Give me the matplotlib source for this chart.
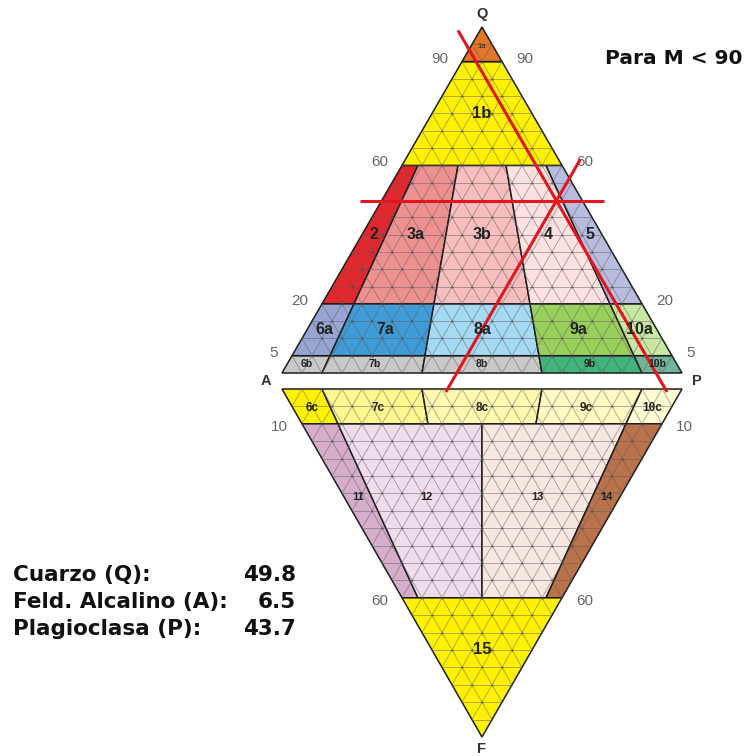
import matplotlib.pyplot as plt
from matplotlib.patches import Polygon
import numpy as np

# sample composition (%)
sampleLabels = ["Cuarzo (Q):", "Feld. Alcalino (A):", "Plagioclasa (P):"]
sampleQ = 49.8
sampleA = 6.5
sampleP = 43.7

# QAPF field limits (%)
qLevels = [0, 5, 20, 60, 90, 100]
ratioCuts = [0, 10, 35, 65, 90, 100]   # P/(A+P) for rows 2..10
fLevels = [0, 10, 60, 100]
ratioCutsF = [0, 10, 50, 90, 100]      # P/(A+P) for fields 11..14

bRowNames = ["6b", "7b", "8b", "9b", "10b"]
aRowNames = ["6a", "7a", "8a", "9a", "10a"]
midRowNames = ["2", "3a", "3b", "4", "5"]
cRowNames = ["6c", "7c", "8c", "9c", "10c"]
fRowNames = ["11", "12", "13", "14"]

upperTicks = [90, 60, 20, 5]
lowerTicks = [10, 60]

colors = {
    "1a": "#E2762B", "1b": "#FFF200",
    "2": "#E3272C", "3a": "#EE9191", "3b": "#F6BEBE", "4": "#FCE1E1", "5": "#B8BDE0",
    "6a": "#98A5D3", "7a": "#409CD8", "8a": "#A6D9F4", "9a": "#99D05C", "10a": "#C9E7A4",
    "6b": "#C9C9C9", "7b": "#C9C9C9", "8b": "#C9C9C9", "9b": "#40B47B", "10b": "#6EB697",
    "6c": "#FFF200", "7c": "#FFF790", "8c": "#FFF9B0", "9c": "#FFFAC2", "10c": "#FFFBD2",
    "11": "#D6AECC", "12": "#EFDDEB", "13": "#F7E7E1", "14": "#BA724B", "15": "#FFF200",
}

# pixel frame of the two triangles
X0, W = 282.0, 400.0
YB, H = 373.0, 346.0
YB2, H2 = 389.0, 348.0


def cartQ(a, p, q):
    return X0 + W * (p + q / 2), YB - q * H


def cartF(a, p, f):
    return X0 + W * (p + f / 2), YB2 + f * H2


def up(q, r):
    return cartQ((1 - r) * (1 - q), r * (1 - q), q)


def down(f, r):
    return cartF((1 - r) * (1 - f), r * (1 - f), f)


def band(func, v1, v2, r1, r2):
    return [func(v1, r1), func(v1, r2), func(v2, r2), func(v2, r1)]


def drawField(ax, pts, name, labelPos, size, weight="bold"):
    ax.add_patch(Polygon(pts, closed=True, facecolor=colors[name], edgecolor="#1e1e1e",
                         linewidth=1.1, zorder=1))
    ax.text(labelPos[0], labelPos[1], name, ha="center", va="center", fontsize=size,
            fontweight=weight, color="#222222", family="Liberation Sans", zorder=6)


def drawGrid(ax, cart):
    for k in np.arange(0.05, 0.96, 0.05):
        for p1, p2 in [((1 - k, 0, k), (0, 1 - k, k)),
                       ((k, 0, 1 - k), (k, 1 - k, 0)),
                       ((0, k, 1 - k), (1 - k, k, 0))]:
            x1, y1 = cart(*p1)
            x2, y2 = cart(*p2)
            ax.plot([x1, x2], [y1, y2], color="#5a5a5a", alpha=0.5, lw=0.65, zorder=2)
    # small dots on the lattice nodes
    xs, ys = [], []
    for i in range(1, 20):
        for j in range(1, 20 - i):
            x, y = cart(0, j / 20, i / 20)
            xs.append(x)
            ys.append(y)
    ax.plot(xs, ys, "o", color="#444444", alpha=0.6, markersize=1.6, markeredgewidth=0, zorder=2)


fig = plt.figure(figsize=(7.52, 7.56), dpi=100)
ax = fig.add_axes([0, 0, 1, 1])
ax.set_xlim(0, 752)
ax.set_ylim(756, 0)
ax.axis("off")

# upper triangle QAP
q = [v / 100 for v in qLevels]
r = [v / 100 for v in ratioCuts]
for names, (q1, q2), size in [(bRowNames, (q[0], q[1]), 7.5), (aRowNames, (q[1], q[2]), 11.5),
                              (midRowNames, (q[2], q[3]), 11.5)]:
    for i, name in enumerate(names):
        rm = (r[i] + r[i + 1]) / 2
        drawField(ax, band(up, q1, q2, r[i], r[i + 1]), name, up((q1 + q2) / 2, rm), size)
drawField(ax, band(up, q[3], q[4], 0, 1), "1b", up(0.75, 0.5), 12)
drawField(ax, band(up, q[4], q[5], 0, 1), "1a", up(0.945, 0.5), 5.5, weight="normal")

# lower triangle FAP
f = [v / 100 for v in fLevels]
rf = [v / 100 for v in ratioCutsF]
for i, name in enumerate(cRowNames):
    drawField(ax, band(down, f[0], f[1], r[i], r[i + 1]), name,
              down(0.055, (r[i] + r[i + 1]) / 2), 8.5)
for i, name in enumerate(fRowNames):
    rm = (rf[i] + rf[i + 1]) / 2
    drawField(ax, band(down, f[1], f[2], rf[i], rf[i + 1]), name, down(0.31, rm), 8)
drawField(ax, band(down, f[2], f[3], 0, 1), "15", down(0.75, 0.5), 12)

drawGrid(ax, cartQ)
drawGrid(ax, cartF)

# scale numbers
tickStyle = dict(fontsize=11, color="#666666", family="Liberation Sans", va="center")
for t in upperTicks:
    xl, yl = up(t / 100, 0)
    xr, yr = up(t / 100, 1)
    ax.text(xl - 14, yl - 3, str(t), ha="right", **tickStyle)
    ax.text(xr + 14, yr - 3, str(t), ha="left", **tickStyle)
for t in lowerTicks:
    xl, yl = down(t / 100, 0)
    xr, yr = down(t / 100, 1)
    ax.text(xl - 14, yl + 3, str(t), ha="right", **tickStyle)
    ax.text(xr + 14, yr + 3, str(t), ha="left", **tickStyle)

vertexStyle = dict(fontsize=10.5, color="#333333", fontweight="bold", family="Liberation Sans",
                   ha="center", va="center")
qx, qy = cartQ(0, 0, 1)
ax.text(qx, qy - 13, "Q", **vertexStyle)
ax.text(X0 - 16, (YB + YB2) / 2, "A", **vertexStyle)
ax.text(X0 + W + 15, (YB + YB2) / 2, "P", **vertexStyle)
fx, fy = cartF(0, 0, 1)
ax.text(fx, fy + 12, "F", **vertexStyle)

# sample lines
qs, as_, ps = sampleQ / 100, sampleA / 100, sampleP / 100
e = 0.055
for p1, p2 in [((1 - qs + e, -e, qs), (-e, 1 - qs + e, qs)),
               ((as_, -e, 1 - as_ + e), (as_, 1 - as_ + e, -e)),
               ((-e, ps, 1 - ps + e), (1 - ps + e, ps, -e))]:
    x1, y1 = cartQ(*p1)
    x2, y2 = cartQ(*p2)
    ax.plot([x1, x2], [y1, y2], color="#E3151F", lw=2.2, solid_capstyle="butt", zorder=5)

# composition text
textStyle = dict(fontsize=15.5, fontweight="bold", color="#111111", va="center")
for i, (label, value) in enumerate(zip(sampleLabels, [sampleQ, sampleA, sampleP])):
    ax.text(13, 575 + 27 * i, label, ha="left", **textStyle)
    ax.text(296, 575 + 27 * i, f"{value:.1f}", ha="right", **textStyle)
ax.text(605, 58, "Para M < 90", ha="left", fontsize=14.5, fontweight="bold",
        color="#111111", va="center")

fig.savefig("out.png", dpi=100)
